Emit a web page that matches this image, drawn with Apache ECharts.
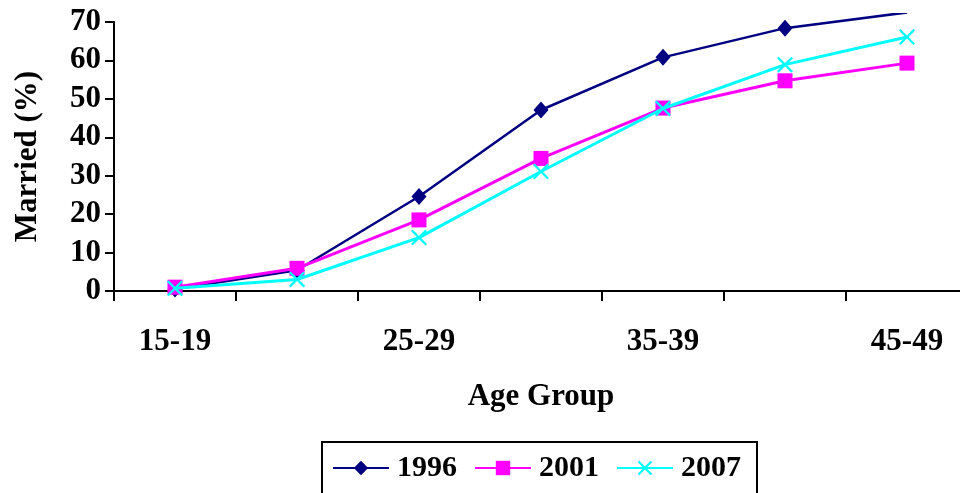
<!DOCTYPE html>
<html>
<head>
<meta charset="utf-8">
<script src="https://cdn.jsdelivr.net/npm/echarts@6/dist/echarts.min.js"></script>
<style>
  html, body { margin: 0; padding: 0; background: #fff; }
  #chart { width: 960px; height: 493px; }
</style>
</head>
<body>
<div id="chart"></div>
<script>
// Age groups along the x axis
const ageGroups = ['15-19', '20-24', '25-29', '30-34', '35-39', '40-44', '45-49'];

// Share of women married (%) by survey year
const married1996 = [0.5, 5.4, 24.6, 47.1, 60.8, 68.4, 72.5];
const married2001 = [1.0, 5.9, 18.5, 34.5, 47.6, 54.7, 59.3];
const married2007 = [0.7, 3.0, 13.9, 31.1, 47.5, 58.9, 66.1];

const seriesNames = ['1996', '2001', '2007'];

// Value axis ticks
const yMin = 0;
const yMax = 70;
const yStep = 10;

const FONT = '"Liberation Serif", "Times New Roman", serif';
const txt = { fontFamily: FONT, fontWeight: 'bold', fontSize: 31, color: '#000' };

// Plot frame: the visible axes span 0..70; the plotting area reaches a bit higher (to 72)
const plotLeft = 114, plotTop = 22, plotWidth = 854, plotHeight = 269;
const pxPerUnit = plotHeight / (yMax - yMin);
const clipMax = 72;
const clipTop = plotTop - (clipMax - yMax) * pxPerUnit;

const crossPath = 'path://M0,10L10,0L50,40L90,0L100,10L60,50L100,90L90,100L50,60L10,100L0,90L40,50Z';

const chart = echarts.init(document.getElementById('chart'), null, { renderer: 'canvas' });

chart.setOption({
  backgroundColor: '#fff',
  animation: false,
  grid: [
    { left: plotLeft, top: plotTop, width: plotWidth, height: plotHeight,
      containLabel: false, outerBoundsMode: 'none' },
    { left: plotLeft, top: clipTop, width: plotWidth, height: plotHeight + (plotTop - clipTop),
      containLabel: false, outerBoundsMode: 'none' }
  ],
  legend: {
    data: seriesNames,
    left: 322,
    top: 442,
    orient: 'horizontal',
    itemWidth: 56,
    itemHeight: 18,
    itemGap: 17,
    borderColor: '#000',
    borderWidth: 2,
    padding: [11, 16, 20, 10],
    textStyle: Object.assign({}, txt, { fontSize: 30, padding: [0, 0, 0, 3] })
  },
  xAxis: [
    {
      gridIndex: 0,
      type: 'category',
      data: ageGroups,
      boundaryGap: true,
      name: 'Age Group',
      nameLocation: 'middle',
      nameGap: 90,
      nameTextStyle: txt,
      axisLine: { show: true, lineStyle: { color: '#000', width: 2 } },
      axisTick: { show: true, interval: 0, length: 10, lineStyle: { color: '#000', width: 2 } },
      axisLabel: Object.assign({}, txt, { interval: 1, margin: 35 }),
      splitLine: { show: false }
    },
    {
      gridIndex: 1,
      type: 'category',
      data: ageGroups,
      boundaryGap: true,
      show: false
    }
  ],
  yAxis: [
    {
      gridIndex: 0,
      type: 'value',
      min: yMin,
      max: yMax,
      interval: yStep,
      name: 'Married (%)',
      nameLocation: 'middle',
      nameRotate: 90,
      nameGap: 71,
      nameTextStyle: txt,
      axisLine: { show: true, lineStyle: { color: '#000', width: 2 } },
      axisTick: { show: true, length: 9, lineStyle: { color: '#000', width: 2 } },
      axisLabel: Object.assign({}, txt, { margin: 13 }),
      splitLine: { show: false }
    },
    {
      gridIndex: 1,
      type: 'value',
      min: yMin,
      max: clipMax,
      show: false,
      splitLine: { show: false }
    }
  ],
  series: [
    {
      name: '1996',
      type: 'line',
      xAxisIndex: 1,
      yAxisIndex: 1,
      data: married1996,
      symbol: 'diamond',
      symbolSize: [15, 17],
      color: '#000080',
      lineStyle: { color: '#000080', width: 2.5 },
      itemStyle: { color: '#000080' },
      clip: true,
      z: 3
    },
    {
      name: '2001',
      type: 'line',
      xAxisIndex: 1,
      yAxisIndex: 1,
      data: married2001,
      symbol: 'rect',
      symbolSize: 15,
      color: '#FF00FF',
      lineStyle: { color: '#FF00FF', width: 3 },
      itemStyle: { color: '#FF00FF' },
      clip: true,
      z: 4
    },
    {
      name: '2007',
      type: 'line',
      xAxisIndex: 1,
      yAxisIndex: 1,
      data: married2007,
      symbol: crossPath,
      symbolSize: 16,
      color: '#00FFFF',
      lineStyle: { color: '#00FFFF', width: 3 },
      itemStyle: { color: '#00FFFF' },
      clip: true,
      z: 5
    }
  ]
});
</script>
</body>
</html>
